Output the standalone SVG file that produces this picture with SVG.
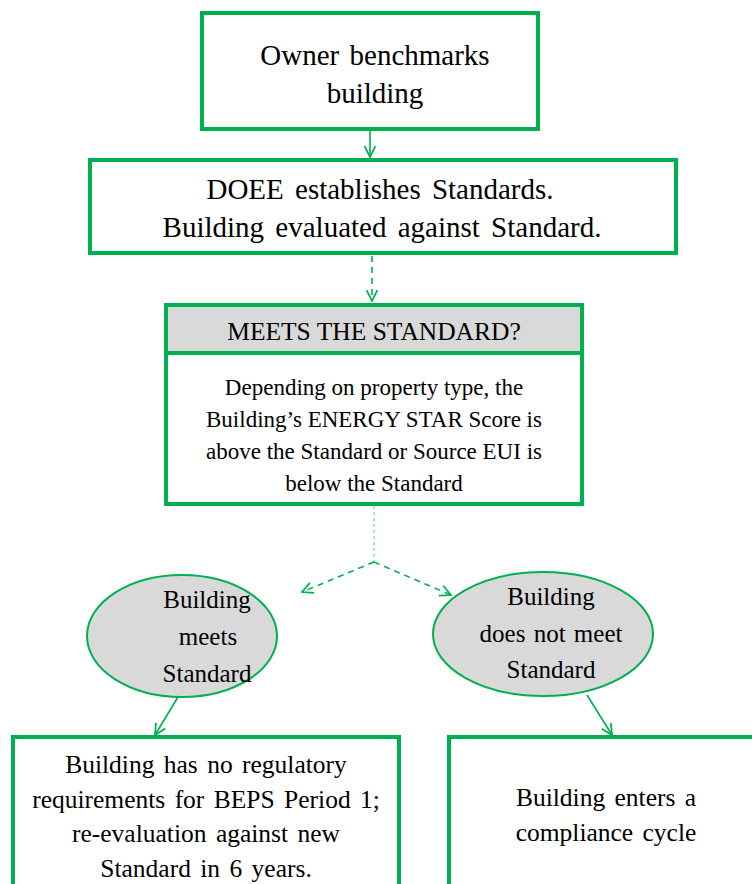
<svg xmlns="http://www.w3.org/2000/svg" width="752" height="884" viewBox="0 0 752 884">
<style>
.box{fill:#fff;stroke:#00B050;stroke-width:4}
.hdr{fill:#D9D9D9;stroke:#00B050;stroke-width:4}
.ell{fill:#D9D9D9;stroke:#00B050;stroke-width:2}
.t{font-family:'Liberation Serif',serif;fill:#000;text-anchor:middle}
.ln{fill:none;stroke:#00B050;stroke-width:1.6}
.dash{stroke-dasharray:6,5}
.dot{fill:none;stroke:#7fd3a0;stroke-width:1.2;stroke-dasharray:3,3}
</style>
<defs>
<marker id="ah" viewBox="0 0 12 12" refX="11" refY="6" markerWidth="13" markerHeight="13" markerUnits="userSpaceOnUse" orient="auto">
<path d="M1,1 L11,6 L1,11" fill="none" stroke="#00B050" stroke-width="1.6"/>
</marker>
</defs>
<g id="connectors">
<line class="ln" x1="370" y1="126" x2="370" y2="157" marker-end="url(#ah)"/>
<line class="ln dash" x1="372" y1="256" x2="372" y2="301" marker-end="url(#ah)"/>
<line class="dot" x1="374" y1="506" x2="374" y2="562"/>
<line class="ln dash" x1="374" y1="562" x2="302" y2="592" marker-end="url(#ah)"/>
<line class="ln dash" x1="374" y1="562" x2="451" y2="595" marker-end="url(#ah)"/>
<line class="ln" x1="178" y1="697" x2="155" y2="735" marker-end="url(#ah)"/>
<line class="ln" x1="587" y1="695" x2="612" y2="735" marker-end="url(#ah)"/>
</g>
<g font-family="Liberation Serif, serif">
<g id="owner">
<rect class="box" x="202" y="13" width="336" height="116"/>
<text class="t" font-size="29" x="375" y="65" word-spacing="3">Owner benchmarks</text>
<text class="t" font-size="29" x="375" y="103">building</text>
</g>
<g id="doee">
<rect class="box" x="90" y="160" width="586" height="93"/>
<text class="t" font-size="29" x="380" y="199" word-spacing="4">DOEE establishes Standards.</text>
<text class="t" font-size="29" x="382" y="237" word-spacing="4">Building evaluated against Standard.</text>
</g>
<g id="meets">
<rect class="hdr" x="166" y="305" width="416" height="48"/>
<text class="t" font-size="25.5" x="374" y="340">MEETS THE STANDARD?</text>
<rect class="box" x="166" y="353" width="416" height="151"/>
<text class="t" font-size="23" x="374" y="395">Depending on property type, the</text>
<text class="t" font-size="23" x="374" y="427">Building’s  ENERGY STAR Score is</text>
<text class="t" font-size="23" x="374" y="459">above the Standard or Source EUI is</text>
<text class="t" font-size="23" x="374" y="491">below the Standard</text>
</g>
<g id="meetsYes">
<ellipse class="ell" cx="182" cy="636" rx="95" ry="61"/>
<text class="t" font-size="25" x="207" y="608">Building</text>
<text class="t" font-size="25" x="208" y="645">meets</text>
<text class="t" font-size="25" x="207" y="682">Standard</text>
</g>
<g id="meetsNo">
<ellipse class="ell" cx="543" cy="634" rx="110" ry="62"/>
<text class="t" font-size="25" x="551" y="605">Building</text>
<text class="t" font-size="25" x="551" y="642" word-spacing="2">does not meet</text>
<text class="t" font-size="25" x="551" y="678">Standard</text>
</g>
<g id="noReq">
<rect class="box" x="13" y="737" width="386" height="160"/>
<text class="t" font-size="25.5" x="206" y="773" word-spacing="3">Building has no regulatory</text>
<text class="t" font-size="25.5" x="206" y="808" word-spacing="3">requirements for BEPS Period 1;</text>
<text class="t" font-size="25.5" x="206" y="842" word-spacing="3">re-evaluation against new</text>
<text class="t" font-size="25.5" x="206" y="877" word-spacing="3">Standard in 6 years.</text>
</g>
<g id="cycle">
<rect class="box" x="449" y="737" width="320" height="160"/>
<text class="t" font-size="25.5" x="606" y="806" word-spacing="3">Building enters a</text>
<text class="t" font-size="25.5" x="606" y="841" word-spacing="3">compliance cycle</text>
</g>
</g>
</svg>
